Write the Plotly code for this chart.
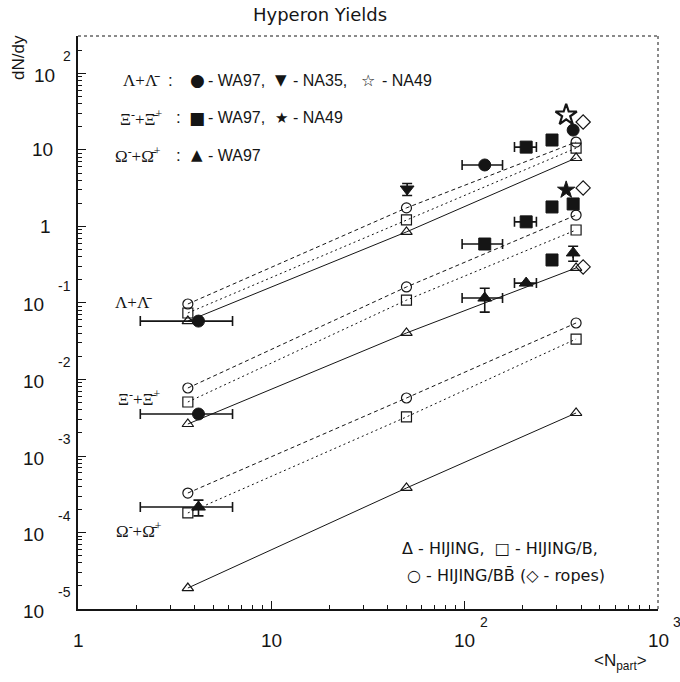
import plotly.graph_objects as go

# ---- model calculations: p+A, S+S, Pb+Pb participant numbers ----
npart_model = [3.7, 50, 377]
npart_ropes = [410]

lam_hijing = [0.058, 0.85, 7.86]
lam_hijing_b = [0.074, 1.22, 10.6]
lam_hijing_bb = [0.097, 1.75, 12.7]
lam_ropes = [23.2]

xi_hijing = [0.00262, 0.0406, 0.287]
xi_hijing_b = [0.00508, 0.109, 0.90]
xi_hijing_bb = [0.00774, 0.162, 1.41]
xi_ropes = [3.19]

om_hijing = [1.88e-5, 3.82e-4, 0.00365]
om_hijing_b = [1.80e-4, 0.00324, 0.0338]
om_hijing_bb = [3.28e-4, 0.00573, 0.0548]
om_ropes = [0.296]

# ---- measured yields ----
wa97_npart = [4.2, 127, 208, 283, 364]
wa97_npart_err = [2.1, 30, 27, 0, 0]
wa97_lam = [0.058, 6.37, 10.9, 13.5, 18.2]
wa97_lam_sym = ["circle", "circle", "square", "square", "circle"]
wa97_xi = [0.00354, 0.59, 1.15, 1.80, 1.97]
wa97_xi_sym = ["circle", "square", "square", "square", "square"]
wa97_om = [2.15e-4, 0.116, 0.182, 0.365, 0.451]
wa97_om_err = [0.5e-4, 0.04, 0, 0, 0.1]
wa97_om_sym = ["triangle-up", "triangle-up", "triangle-up", "square", "triangle-up"]

na35_npart = [50.4]
na35_lam = [3.09]
na35_lam_err = [0.55]

na49_npart = [335]
na49_lam = [28.7]
na49_xi = [3.0]

INK = "#151515"

fig = go.Figure()


def model(x, y, sym, dash):
    fig.add_trace(go.Scatter(
        x=x, y=y, mode="lines+markers",
        line=dict(color=INK, width=1, dash=dash),
        marker=dict(symbol=sym, size=10, color=INK,
                    line=dict(color=INK, width=1.2)),
        showlegend=False, hoverinfo="skip"))


for hij, hb, hbb, rp in [
    (lam_hijing, lam_hijing_b, lam_hijing_bb, lam_ropes),
    (xi_hijing, xi_hijing_b, xi_hijing_bb, xi_ropes),
    (om_hijing, om_hijing_b, om_hijing_bb, om_ropes),
]:
    model(npart_model, hbb, "circle-open", "4px,3px")
    model(npart_model, hb, "square-open", "2px,3px")
    model(npart_model, hij, "triangle-up-open", "solid")
    fig.add_trace(go.Scatter(
        x=npart_ropes, y=rp, mode="markers",
        marker=dict(symbol="diamond-open", size=11, color=INK,
                    line=dict(color=INK, width=1.2)),
        showlegend=False, hoverinfo="skip"))


def data(x, y, sym, size, xerr=None, yerr=None):
    fig.add_trace(go.Scatter(
        x=x, y=y, mode="markers",
        marker=dict(symbol=sym, size=size, color=INK,
                    line=dict(color=INK, width=1)),
        error_x=dict(type="data", array=xerr, color=INK, thickness=1.6,
                     width=5, visible=xerr is not None),
        error_y=dict(type="data", array=yerr, color=INK, thickness=1.6,
                     width=5, visible=yerr is not None),
        showlegend=False, hoverinfo="skip"))


data(wa97_npart, wa97_lam, wa97_lam_sym, 12, xerr=wa97_npart_err)
data(wa97_npart, wa97_xi, wa97_xi_sym, 12, xerr=wa97_npart_err)
data(wa97_npart, wa97_om, wa97_om_sym, 12, xerr=wa97_npart_err,
     yerr=wa97_om_err)
data(na35_npart, na35_lam, "triangle-down", 12, yerr=na35_lam_err)
fig.add_trace(go.Scatter(
    x=na49_npart, y=na49_lam, mode="markers",
    marker=dict(symbol="star-open", size=16, color=INK,
                line=dict(color=INK, width=2.2)),
    showlegend=False, hoverinfo="skip"))
data(na49_npart, na49_xi, "star", 13)

# ---- axes ----
decades_y = list(range(-5, 3))
minor_y = [m * 10 ** d for d in range(-5, 3) for m in range(2, 10)]
minor_x = [m * 10 ** d for d in range(0, 3) for m in range(2, 10)]

axis_common = dict(
    type="log", showgrid=False, zeroline=False, showline=True,
    linecolor=INK, linewidth=1.5, ticks="inside", tickcolor=INK,
    ticklen=8, tickwidth=1, showticklabels=False,
)
fig.update_xaxes(
    range=[0, 3], tickvals=[1, 10, 100, 1000],
    minor=dict(tickvals=minor_x, ticks="inside", ticklen=4,
               tickcolor=INK, tickwidth=1),
    **axis_common)
fig.update_yaxes(
    range=[-5, 2.49], tickvals=[10 ** d for d in decades_y],
    minor=dict(tickvals=minor_y, ticks="inside", ticklen=4,
               tickcolor=INK, tickwidth=1),
    **axis_common)

ann = []
sans = "Liberation Sans, Arial, sans-serif"
wide = "DejaVu Sans, Verdana, sans-serif"
serif = "Liberation Serif, Times New Roman, serif"


def px_x(px):
    return (px - 78) / 580


def px_y(py):
    return (609 - py) / 573


# y tick labels: base "10" and raised exponent
for d in decades_y:
    if d == 0:
        ann.append(dict(text="1", xref="paper", x=0, xanchor="right",
                        xshift=-25, yref="y", y=d, yanchor="middle",
                        showarrow=False, font=dict(family=sans, size=19, color=INK)))
        continue
    if d == 1:
        ann.append(dict(text="10", xref="paper", x=0, xanchor="right",
                        xshift=-23, yref="y", y=d, yanchor="middle",
                        showarrow=False, font=dict(family=sans, size=19, color=INK)))
        continue
    base_shift = -21 if d > 0 else -32
    ann.append(dict(text="10", xref="paper", x=0, xanchor="right",
                    xshift=base_shift, yref="y", y=d, yanchor="middle", yshift=-2,
                    showarrow=False, font=dict(family=sans, size=19, color=INK)))
    ann.append(dict(text=str(d), xref="paper", x=0, xanchor="right",
                    xshift=-5, yref="y", y=d, yanchor="middle", yshift=17,
                    showarrow=False, font=dict(family=sans, size=14, color=INK)))

# x tick labels
for d in range(0, 4):
    base = "1" if d == 0 else "10"
    ann.append(dict(text=base, xref="x", x=d, xanchor="center",
                    yref="paper", y=0, yanchor="middle", yshift=-31,
                    showarrow=False, font=dict(family=sans, size=19, color=INK)))
    if d >= 2:
        ann.append(dict(text=str(d), xref="x", x=d, xanchor="center", xshift=19,
                        yref="paper", y=0, yanchor="middle", yshift=-13,
                        showarrow=False, font=dict(family=sans, size=14, color=INK)))

# titles
ann.append(dict(text="Hyperon Yields", xref="paper", x=px_x(320), yref="paper", y=1,
                yshift=22, yanchor="middle", xanchor="center", showarrow=False,
                font=dict(family=wide, size=18, color=INK)))
ann.append(dict(text="dN/dy", xref="paper", x=0, xshift=-60, yref="paper", y=1,
                yshift=-22, textangle=-90, xanchor="center", yanchor="middle",
                showarrow=False, font=dict(family=sans, size=17, color=INK)))
ann.append(dict(text="&lt;N<sub>part</sub>&gt;", xref="paper", x=px_x(620), yref="paper",
                y=0, yshift=-53, xanchor="center", yanchor="middle", showarrow=False,
                font=dict(family=sans, size=17, color=INK)))

# species labels beside the low-N curves
for txt, px, py in [
    ("Λ+Λ\u0304", 133, 302),
    ("Ξ<sup>-</sup>+Ξ\u0304<sup>+</sup>", 139, 398),
    ("Ω<sup>-</sup>+Ω\u0304<sup>+</sup>", 139, 530),
]:
    ann.append(dict(text=txt, xref="paper", x=px_x(px), yref="paper",
                    y=px_y(py), xanchor="center", yanchor="middle",
                    showarrow=False, font=dict(family=serif, size=17, color=INK)))

# symbol key, upper left: (text, anchor px, row centre px, font, size, anchor)
key_pieces = [
    ("Λ+Λ\u0304", 121, 80, serif, 17, "left"), (":", 166, 80, sans, 17, "left"),
    ("●", 197, 80, wide, 17, "center"), ("- WA97,", 206, 80, sans, 16, "left"),
    ("▼", 281, 80, wide, 15, "center"), ("- NA35,", 291, 80, sans, 16, "left"),
    ("☆", 368, 80, wide, 16, "center"), ("- NA49", 380, 80, sans, 16, "left"),
    ("Ξ<sup>-</sup>+Ξ\u0304<sup>+</sup>", 118, 118, serif, 17, "left"),
    (":", 174, 118, sans, 17, "left"),
    ("■", 197, 118, wide, 17, "center"), ("- WA97,", 206, 118, sans, 16, "left"),
    ("★", 281, 118, wide, 15, "center"), ("- NA49", 291, 118, sans, 16, "left"),
    ("Ω<sup>-</sup>+Ω\u0304<sup>+</sup>", 113, 155, serif, 17, "left"),
    (":", 174, 155, sans, 17, "left"),
    ("▲", 197, 155, wide, 15, "center"), ("- WA97", 206, 155, sans, 16, "left"),
]
for txt, px, py, fam, sz, anc in key_pieces:
    ann.append(dict(text=txt, xref="paper", x=px_x(px), yref="paper",
                    y=px_y(py), xanchor=anc, yanchor="middle",
                    showarrow=False, font=dict(family=fam, size=sz, color=INK)))

# model key, lower right
model_rows = [
    ("Δ - HIJING,  □ - HIJING/B,", 400, 548),
    ("○ - HIJING/BB\u0304 (◇ - ropes)", 405, 575),
]
for txt, px, py in model_rows:
    ann.append(dict(text=txt, xref="paper", x=px_x(px), yref="paper",
                    y=px_y(py), xanchor="left", yanchor="middle",
                    showarrow=False, font=dict(family=wide, size=16, color=INK)))

# dotted frame on top and right
shapes = [
    dict(type="line", xref="paper", yref="paper", x0=0, x1=1, y0=1, y1=1,
         line=dict(color=INK, width=1, dash="dot")),
    dict(type="line", xref="paper", yref="paper", x0=1, x1=1, y0=0, y1=1,
         line=dict(color=INK, width=1, dash="dot")),
]

fig.update_layout(
    width=680, height=682,
    margin=dict(l=78, r=22, t=36, b=73),
    paper_bgcolor="white", plot_bgcolor="white",
    annotations=ann, shapes=shapes, showlegend=False,
)

fig.write_html("out.html")
